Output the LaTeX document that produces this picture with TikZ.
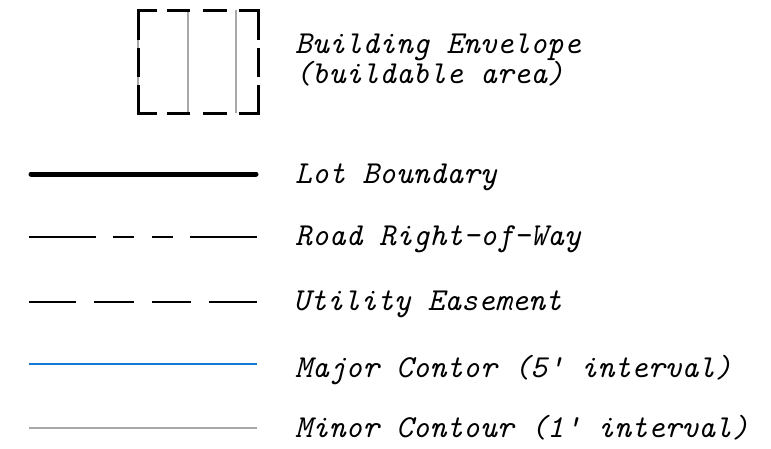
\documentclass[tikz,border=0pt]{standalone}
\usepackage{tikz}

\definecolor{contourblue}{RGB}{20,120,215}
\definecolor{contourgray}{RGB}{168,168,168}

\tikzset{
  legendtext/.style={anchor=base west, inner sep=0pt,
    font=\fontsize{32}{30}\selectfont\ttfamily\itshape},
  envdash/.style={line width=3pt, black, line join=miter},
  envline/.style={line width=1.6pt, contourgray}
}

\begin{document}
\begin{tikzpicture}[x=1pt, y=-1pt, line cap=butt]
\useasboundingbox (0,0) rectangle (771,448);

% building envelope
\foreach \x in {138, 188, 236}
  \draw[envline] (\x,10) -- (\x,113);
\draw[envdash] (138,40) -- (138,10) -- (157,10);
\draw[envdash] (239,10) -- (258,10) -- (258,40);
\draw[envdash] (138,85) -- (138,113) -- (157,113);
\draw[envdash] (239,113) -- (258,113) -- (258,85);
\foreach \a/\b in {167/190, 203/227} {
  \draw[envdash] (\a,10) -- (\b,10);
  \draw[envdash] (\a,113) -- (\b,113);
}
\draw[envdash] (138,48) -- (138,77);
\draw[envdash] (258,48) -- (258,77);

% legend lines
\draw[line width=5pt, line cap=round] (31,174) -- (256,174);
\foreach \a/\b in {29/96, 113/134, 152/173, 190/257}
  \draw[line width=2.4pt] (\a,236.7) -- (\b,236.7);
\foreach \a/\b in {29/76, 94/134, 152/191, 209/257}
  \draw[line width=2pt] (\a,301.7) -- (\b,301.7);
\draw[line width=2pt, contourblue] (29,364.3) -- (257,364.3);
\draw[line width=2pt, contourgray] (29,428.3) -- (257,428.3);

% labels
\node[legendtext] (envelope) at (295,53) {Building Envelope};
\node[legendtext] (buildable) at (295,83) {(buildable area)};
\node[legendtext] (lot) at (295,183) {Lot Boundary};
\node[legendtext] (road) at (295,245) {Road Right-of-Way};
\node[legendtext] (utility) at (293,310) {Utility Easement};
\node[legendtext] (major) at (295,377) {Major Contor (5' interval)};
\node[legendtext] (minor) at (295,437) {Minor Contour (1' interval)};
\end{tikzpicture}
\end{document}
